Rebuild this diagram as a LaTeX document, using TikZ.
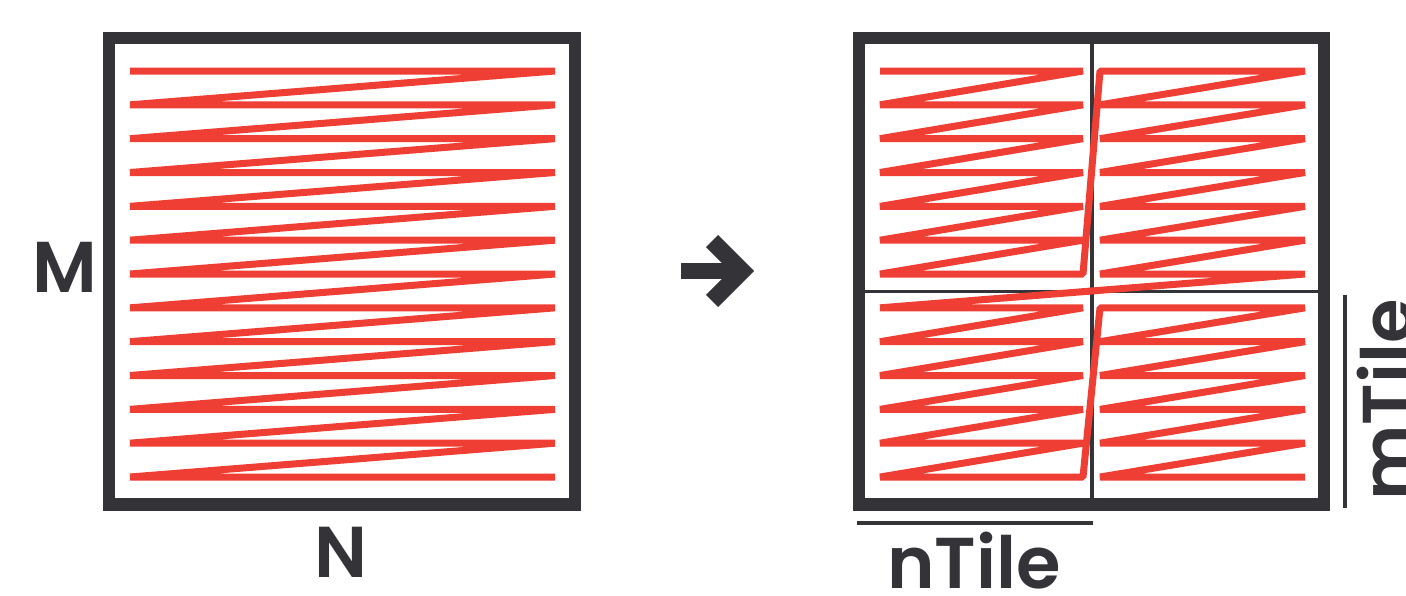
\documentclass[tikz,border=0pt]{standalone}
\usepackage{fontspec}
\setmainfont{Poppins}[BoldFont={Poppins SemiBold}]
\definecolor{ink}{RGB}{51,51,56}
\definecolor{zig}{RGB}{239,62,51}
\begin{document}
\begin{tikzpicture}[x=1pt,y=-1pt,
  frame/.style={draw=ink,line width=12.5pt},
  divider/.style={draw=ink,line width=3.5pt},
  zigzag/.style={draw=zig,line width=7pt,line join=bevel},
  dimline/.style={draw=ink,line width=4pt},
  lbl/.style={text=ink,font=\fontsize{72}{72}\selectfont\bfseries,inner sep=0pt}]
\useasboundingbox (0,0) rectangle (1406,595);
\pgfmathsetmacro{\rowgap}{(477-71)/12}

% ---- original matrix: one row-major sweep ----
\draw[frame] (109,38) rectangle (575,504.5);
\draw[zigzag] (130,71)
  \foreach \i in {0,...,12}{
    -- (555,{71+\i*\rowgap})
    \ifnum\i<12 -- (130,{71+(\i+1)*\rowgap}) \fi
  };

% ---- transformation arrow ----
\draw[draw=ink,line width=16pt] (681,271) -- (738,271);
\draw[draw=ink,line width=17pt,line join=miter] (712,241) -- (742,271) -- (712,301);

% ---- tiled matrix ----
\draw[frame] (859,38) rectangle (1324,504.5);
\draw[divider] (1092,38) -- (1092,504.5);
\draw[divider] (859,291.5) -- (1324,291.5);
\draw[zigzag] (880,71)
  % top-left tile
  \foreach \i in {0,...,6}{
    -- (1083,{71+\i*\rowgap})
    \ifnum\i<6 -- (880,{71+(\i+1)*\rowgap}) \fi
  }
  -- (1100,71)
  % top-right tile
  \foreach \i in {0,...,6}{
    -- (1305,{71+\i*\rowgap})
    \ifnum\i<6 -- (1100,{71+(\i+1)*\rowgap}) \fi
  }
  -- (880,{71+7*\rowgap})
  % bottom-left tile
  \foreach \i in {7,...,12}{
    -- (1083,{71+\i*\rowgap})
    \ifnum\i<12 -- (880,{71+(\i+1)*\rowgap}) \fi
  }
  -- (1100,{71+7*\rowgap})
  % bottom-right tile
  \foreach \i in {7,...,12}{
    -- (1305,{71+\i*\rowgap})
    \ifnum\i<12 -- (1100,{71+(\i+1)*\rowgap}) \fi
  };

% ---- tile size markers ----
\coordinate (nA) at (857,523);
\coordinate (nB) at (1093,523);
\coordinate (mA) at (1345,295);
\coordinate (mB) at (1345,508);
\draw[dimline] (nA) -- (nB);
\draw[dimline] (mA) -- (mB);

% ---- labels ----
\node[lbl,anchor=base] (lM) at (64.5,292) {M};
\node[lbl,anchor=base] (lN) at (341,577) {N};
\node[lbl,anchor=base] (lnT) at (974,588) {nTile};
\node[lbl,anchor=base,rotate=90] (lmT) at (1413,400) {mTile};
\end{tikzpicture}
\end{document}
